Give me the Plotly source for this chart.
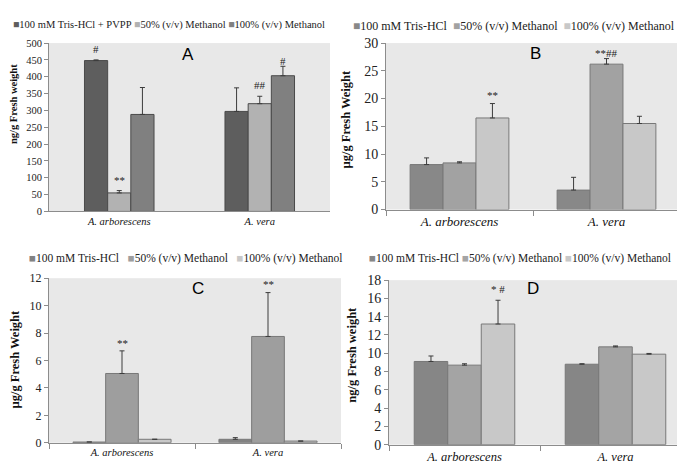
import plotly.graph_objects as go

W, H = 685, 464

categories = ["A. arborescens", "A. vera"]

# Panel A (ng/g Fresh weight)
a_series = ["100 mM Tris-HCl + PVPP", "50% (v/v) Methanol", "100% (v/v) Methanol"]
a_values = [[448, 297], [55, 320], [288, 403]]
a_errors = [[2, 70], [7, 22], [80, 28]]
a_marks = [["#", ""], ["**", "##"], ["", "#"]]
a_mark_y = [[483, 0], [92, 376], [0, 448]]

# Panel B (µg/g Fresh Weight)
b_series = ["100 mM Tris-HCl", "50% (v/v) Methanol", "100% (v/v) Methanol"]
b_values = [[8.1, 3.5], [8.4, 26.2], [16.5, 15.5]]
b_errors = [[1.2, 2.3], [0.2, 1.0], [2.6, 1.3]]
b_marks = [["", ""], ["", "**##"], ["**", ""]]
b_mark_y = [[0, 0], [0, 28.2], [20.7, 0]]

# Panel C (µg/g Fresh Weight)
c_series = ["100 mM Tris-HCl", "50% (v/v) Methanol", "100% (v/v) Methanol"]
c_values = [[0.05, 0.25], [5.05, 7.75], [0.25, 0.12]]
c_errors = [[0.0, 0.12], [1.65, 3.2], [0.0, 0.0]]
c_marks = [["", ""], ["**", "**"], ["", ""]]
c_mark_y = [[0, 0], [7.3, 11.6], [0, 0]]

# Panel D (ng/g Fresh weight)
d_series = ["100 mM Tris-HCl", "50% (v/v) Methanol", "100% (v/v) Methanol"]
d_values = [[9.1, 8.8], [8.7, 10.7], [13.2, 9.9]]
d_errors = [[0.6, 0.05], [0.15, 0.1], [2.6, 0.08]]
d_marks = [["", ""], ["", ""], ["* #", ""]]
d_mark_y = [[0, 0], [0, 0], [17.0, 0]]

SERIF = "Liberation Serif"
SANS = "Liberation Sans"
BG = "#e8e8e8"
AXC = "#8c8c8c"

panels = [
    dict(key="A", series=a_series, values=a_values, errors=a_errors, marks=a_marks, marky=a_mark_y,
         colors=["#5e5e5e", "#b2b2b2", "#808080"], line="#4a4a4a",
         px=(41, 322), py=(29, 203), yrange=[0, 500], dtick=50, width=0.165,
         tickfs=10.5, catfs=10.5, xticks="",
         title="ng/g Fresh weight", title_xy=(5, 92), title_fs=10.5,
         letter_xy=(180, 41), legend_xy=(3, 10), legend_fs=10.5, legend_sep="&nbsp;"),
    dict(key="B", series=b_series, values=b_values, errors=b_errors, marks=b_marks, marky=b_mark_y,
         colors=["#888888", "#a2a2a2", "#c8c8c8"], line="#787878",
         px=(378, 672), py=(29, 201), yrange=[0, 30], dtick=5, width=0.224,
         tickfs=14, catfs=13, xticks="outside",
         title="µg/g Fresh Weight", title_xy=(338, 108), title_fs=12.5,
         letter_xy=(527, 40), legend_xy=(343, 11), legend_fs=12, legend_sep="&nbsp;&nbsp;"),
    dict(key="C", series=c_series, values=c_values, errors=c_errors, marks=c_marks, marky=c_mark_y,
         colors=["#828282", "#9e9e9e", "#c8c8c8"], line="#787878",
         px=(41, 333), py=(272, 442), yrange=[0, 12], dtick=2, width=0.224,
         tickfs=12, catfs=10.5, xticks="outside",
         title="µg/g Fresh Weight", title_xy=(7, 356), title_fs=12.5,
         letter_xy=(190, 283), legend_xy=(19, 252), legend_fs=11.5, legend_sep="&nbsp;&nbsp;&nbsp;"),
    dict(key="D", series=d_series, values=d_values, errors=d_errors, marks=d_marks, marky=d_mark_y,
         colors=["#868686", "#a4a4a4", "#c8c8c8"], line="#787878",
         px=(381, 683), py=(274, 444), yrange=[0, 18], dtick=2, width=0.222,
         tickfs=14, catfs=12.5, xticks="outside",
         title="ng/g Fresh weight", title_xy=(344, 351), title_fs=12.5,
         letter_xy=(525, 283), legend_xy=(359, 252), legend_fs=11.5, legend_sep="&nbsp;"),
]

fig = go.Figure()
annotations = []
layout_axes = {}

for pi, p in enumerate(panels):
    n = "" if pi == 0 else str(pi + 1)
    xa, ya = "x" + n, "y" + n
    w = p["width"]
    start = -1.5 * w
    for si, name in enumerate(p["series"]):
        off = start + si * w
        fig.add_trace(go.Bar(
            x=categories, y=p["values"][si], name=name,
            xaxis=xa, yaxis=ya, width=w, offset=off,
            marker=dict(color=p["colors"][si], line=dict(color=p["line"], width=1)),
            error_y=dict(type="data", symmetric=False, array=p["errors"][si],
                         arrayminus=[0, 0], color="#3c3c3c", thickness=1, width=2.5),
            showlegend=False,
        ))
        for ci in range(len(categories)):
            txt = p["marks"][si][ci]
            if txt:
                annotations.append(dict(
                    x=ci + off + w / 2, y=p["marky"][si][ci], xref=xa, yref=ya,
                    text=txt, showarrow=False, xanchor="center", yanchor="middle",
                    font=dict(family=SERIF, size=11, color="#222")))
    x0, x1 = p["px"]
    y0, y1 = p["py"]
    layout_axes["xaxis" + n] = dict(
        domain=[x0 / W, x1 / W], anchor=ya, type="category",
        range=[-0.5, 1.5], showline=True, linecolor=AXC, linewidth=1,
        ticks=p["xticks"], tickson="boundaries", ticklen=5, tickcolor=AXC,
        showgrid=False, zeroline=False,
        tickfont=dict(family=SERIF, size=p["catfs"], color="#111", style="italic"),
        fixedrange=True)
    layout_axes["yaxis" + n] = dict(
        domain=[1 - y1 / H, 1 - y0 / H], anchor=xa, range=p["yrange"],
        dtick=p["dtick"], showline=True, linecolor=AXC, linewidth=1,
        ticks="outside", ticklen=4, tickcolor=AXC, showgrid=False, zeroline=False,
        tickfont=dict(family=SERIF, size=p["tickfs"], color="#222"), fixedrange=True)
    # panel letter
    lx, ly = p["letter_xy"]
    annotations.append(dict(x=lx / W, y=1 - ly / H, xref="paper", yref="paper",
                            xanchor="center", yanchor="middle",
                            text=p["key"], showarrow=False,
                            font=dict(family=SANS, size=17, color="#000")))
    # y title
    tx, ty = p["title_xy"]
    annotations.append(dict(x=tx / W, y=1 - ty / H, xref="paper", yref="paper",
                            xanchor="center", yanchor="middle",
                            text="<b>" + p["title"] + "</b>", textangle=-90, showarrow=False,
                            font=dict(family=SERIF, size=p["title_fs"], color="#111")))
    # legend
    parts = []
    for si, name in enumerate(p["series"]):
        parts.append('<span style="color:%s">■</span>%s' % (p["colors"][si], name))
    gx, gy = p["legend_xy"]
    annotations.append(dict(x=gx / W, y=1 - gy / H, xref="paper", yref="paper",
                            xanchor="left", yanchor="middle",
                            text=p["legend_sep"].join(parts), showarrow=False,
                            font=dict(family=SERIF, size=p["legend_fs"], color="#222")))

fig.update_layout(
    width=W, height=H, margin=dict(l=0, r=0, t=0, b=0),
    paper_bgcolor="white", plot_bgcolor=BG, barmode="overlay",
    annotations=annotations, **layout_axes)

fig.write_html("out.html")
